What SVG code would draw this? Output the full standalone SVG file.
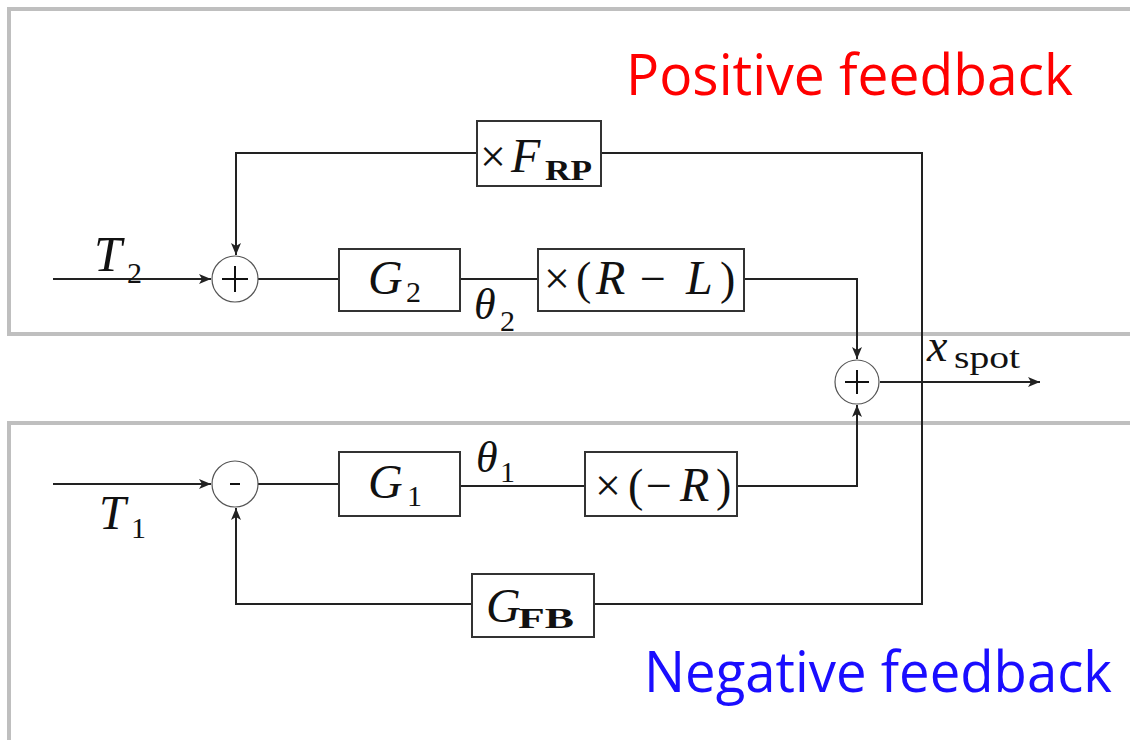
<svg xmlns="http://www.w3.org/2000/svg" width="1130" height="740" viewBox="0 0 1130 740">
<defs>
<marker id="arr" viewBox="0 0 12 10" refX="12" refY="5" markerWidth="12" markerHeight="10" markerUnits="userSpaceOnUse" orient="auto">
<path d="M0,0 L12,5 L0,10 L3,5 Z" fill="#222"/>
</marker>
</defs>
<style>
.frame{fill:none;stroke:#bfbfbf;stroke-width:4}
.box{fill:#fff;stroke:#333;stroke-width:2}
.sum{fill:#fff;stroke:#555;stroke-width:1.2}
.sign{stroke:#111;stroke-width:2}
.wire{fill:none;stroke:#222;stroke-width:2}
.m{font-family:"Liberation Serif","DejaVu Serif",serif;fill:#111}
.i{font-style:italic}
.b{font-weight:bold}
.lbl{font-family:"Open Sans","Noto Sans","Liberation Sans",sans-serif;font-size:56px}
</style>
<rect width="1130" height="740" fill="#fff"/>
<g id="frames">
<path class="frame" d="M1140,9 H9 V334 H1140"/>
<path class="frame" d="M1140,423 H9 V750"/>
</g>
<g id="connectors">
<path class="wire" d="M53,279 H211" marker-end="url(#arr)"/>
<path class="wire" d="M258,279 H339"/>
<path class="wire" d="M460,279 H539"/>
<path class="wire" d="M744,279 H857 V359" marker-end="url(#arr)"/>
<path class="wire" d="M601,153 H922 V604 H594"/>
<path class="wire" d="M477,153 H236 V255" marker-end="url(#arr)"/>
<path class="wire" d="M53,484 H211" marker-end="url(#arr)"/>
<path class="wire" d="M258,484 H339"/>
<path class="wire" d="M460,486 H586"/>
<path class="wire" d="M737,486 H857 V405" marker-end="url(#arr)"/>
<path class="wire" d="M472,604 H236 V508" marker-end="url(#arr)"/>
<path class="wire" d="M880,382 H1040" marker-end="url(#arr)"/>
</g>
<g id="sum-top">
<circle class="sum" cx="235" cy="279" r="23"/>
<path class="sign" d="M222,279 H248 M235,266 V292"/>
</g>
<g id="sum-bottom">
<circle class="sum" cx="235" cy="484" r="23"/>
<path class="sign" d="M230,484 H240"/>
</g>
<g id="sum-out">
<circle class="sum" cx="857" cy="382" r="22"/>
<path class="sign" d="M845,382 H869 M857,370 V394"/>
</g>
<g id="G2">
<rect class="box" x="339" y="249" width="121" height="62"/>
<text class="m i" x="368" y="294" font-size="48">G</text>
<text class="m" x="406" y="302" font-size="30">2</text>
</g>
<g id="mulRL">
<rect class="box" x="538" y="249" width="206" height="62"/>
<text class="m" x="544" y="294" font-size="46">×</text>
<text class="m" x="576" y="294" font-size="46">(</text>
<text class="m i" x="596" y="294" font-size="48">R</text>
<text class="m" x="640" y="294" font-size="46">−</text>
<text class="m i" x="686" y="294" font-size="48">L</text>
<text class="m" x="720" y="294" font-size="46">)</text>
</g>
<g id="mulFRP">
<rect class="box" x="477" y="121" width="124" height="65"/>
<text class="m" x="480" y="172" font-size="46">×</text>
<text class="m i" x="511" y="172" font-size="48">F</text>
<text class="m b" x="545" y="180" font-size="30" textLength="47" lengthAdjust="spacingAndGlyphs">RP</text>
</g>
<g id="G1">
<rect class="box" x="339" y="452" width="121" height="64"/>
<text class="m i" x="368" y="498" font-size="48">G</text>
<text class="m" x="407" y="506" font-size="30">1</text>
</g>
<g id="mulR">
<rect class="box" x="585" y="452" width="152" height="64"/>
<text class="m" x="595" y="501" font-size="46">×</text>
<text class="m" x="628" y="501" font-size="46">(</text>
<text class="m" x="646" y="501" font-size="46">−</text>
<text class="m i" x="680" y="501" font-size="48">R</text>
<text class="m" x="716" y="501" font-size="46">)</text>
</g>
<g id="GFB">
<rect class="box" x="472" y="574" width="122" height="63"/>
<text class="m i" x="486" y="622" font-size="48">G</text>
<text class="m b" x="518" y="628" font-size="30" textLength="56" lengthAdjust="spacingAndGlyphs">FB</text>
</g>
<g id="labels">
<text class="m i" x="94" y="271" font-size="50">T</text>
<text class="m" x="127" y="283" font-size="30">2</text>
<text class="m i" x="99" y="529" font-size="48">T</text>
<text class="m" x="131" y="538" font-size="30">1</text>
<text class="m i" x="474" y="319" font-size="44">θ</text>
<text class="m" x="500" y="331" font-size="30">2</text>
<text class="m i" x="476" y="472" font-size="44">θ</text>
<text class="m" x="500" y="482" font-size="30">1</text>
<text class="m i" x="927" y="361" font-size="46">x</text>
<text class="m" x="954" y="368" font-size="32" textLength="66" lengthAdjust="spacingAndGlyphs">spot</text>
</g>
<g id="titles">
<text class="lbl" x="626" y="95" fill="#ff0000" textLength="447" lengthAdjust="spacingAndGlyphs">Positive feedback</text>
<text class="lbl" x="644" y="692" fill="#1a0dff" textLength="468" lengthAdjust="spacingAndGlyphs">Negative feedback</text>
</g>
</svg>
